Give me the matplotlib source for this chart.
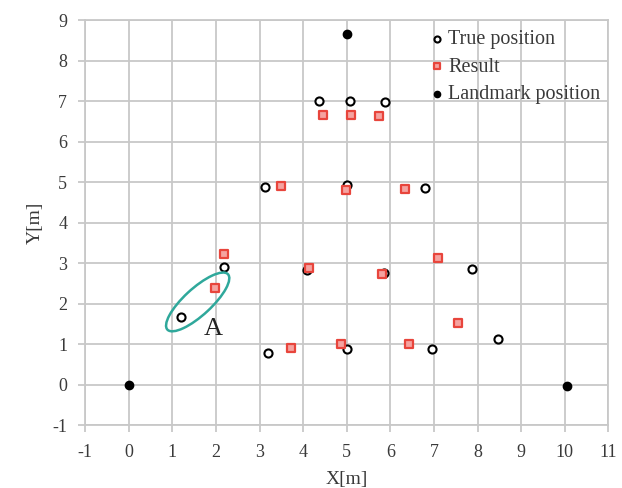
import matplotlib
matplotlib.use("Agg")
import matplotlib.pyplot as plt
from matplotlib.patches import Ellipse

plt.rcParams['font.family'] = ['Liberation Serif', 'DejaVu Serif']
plt.rcParams['axes.unicode_minus'] = False

# True positions
true_x = [4.37, 5.08, 5.87, 3.12, 5.0, 6.8, 2.18, 1.19, 4.08, 5.86, 7.88, 3.19, 5.0, 6.95, 8.46]
true_y = [7.0, 7.0, 6.97, 4.88, 4.93, 4.86, 2.9, 1.67, 2.82, 2.76, 2.85, 0.78, 0.88, 0.88, 1.12]

# Results
res_x = [4.46, 5.09, 5.74, 3.49, 4.98, 6.34, 2.18, 1.97, 4.13, 5.8, 7.09, 7.55, 3.72, 4.87, 6.43]
res_y = [6.66, 6.65, 6.63, 4.9, 4.8, 4.83, 3.22, 2.38, 2.87, 2.74, 3.12, 1.52, 0.91, 1.01, 0.99]

# Landmarks
lm_x = [0.0, 5.0, 10.05]
lm_y = [0.0, 8.66, -0.03]

x_ticks = list(range(-1, 12))
y_ticks = list(range(-1, 10))

# Ellipse annotation (region A)
ell_center = (1.58, 2.04)
ell_width = 1.95
ell_height = 0.64
ell_angle = 45
label_A = "A"
label_A_pos = (1.93, 1.38)

fig = plt.figure(figsize=(6.22, 4.88), dpi=100)
ax = fig.add_axes([0.137, 0.129, 0.841, 0.830])

grid_c = '#c8c8c8'
ax.set_xlim(-1, 11)
ax.set_ylim(-1, 9)
ax.set_xticks(x_ticks)
ax.set_yticks(y_ticks)
ax.grid(True, color=grid_c, lw=1.3)
ax.set_axisbelow(True)
for s in ax.spines.values():
    s.set_color(grid_c)
    s.set_linewidth(1.3)
ax.tick_params(colors=grid_c, labelcolor='#3a3a3a', labelsize=13, length=5, width=1.3)
ax.tick_params(axis='x', pad=9)
ax.tick_params(axis='y', pad=8)

ax.scatter(true_x, true_y, s=34, facecolors='white', edgecolors='black', linewidths=1.5,
           marker='o', label='True position', zorder=3)
ax.scatter(res_x, res_y, s=30, facecolors='#f5a3a0', edgecolors='#e8453c', linewidths=1.6,
           marker='s', label='Result', zorder=4)
ax.scatter(lm_x, lm_y, s=36, color='black', marker='o', label='Landmark position', zorder=3)

ell = Ellipse(ell_center, ell_width, ell_height, angle=ell_angle, fill=False,
              edgecolor='#2fa89b', lw=1.8, zorder=5)
ax.add_patch(ell)
ax.text(label_A_pos[0], label_A_pos[1], label_A, fontsize=19, color='#222222',
        ha='center', va='center', zorder=6)

ax.set_xlabel('X[m]', fontsize=14, color='#3a3a3a', labelpad=7)
ax.set_ylabel('Y[m]', fontsize=14, color='#3a3a3a', labelpad=6)

leg = ax.legend(loc='upper right', bbox_to_anchor=(1.0, 0.995), frameon=False, fontsize=14.5,
                handletextpad=0.05, markerscale=0.75, borderaxespad=0.0, labelspacing=0.42,
                handlelength=1.0)
for t in leg.get_texts():
    t.set_color('#3a3a3a')

fig.savefig('out.png', dpi=100)
